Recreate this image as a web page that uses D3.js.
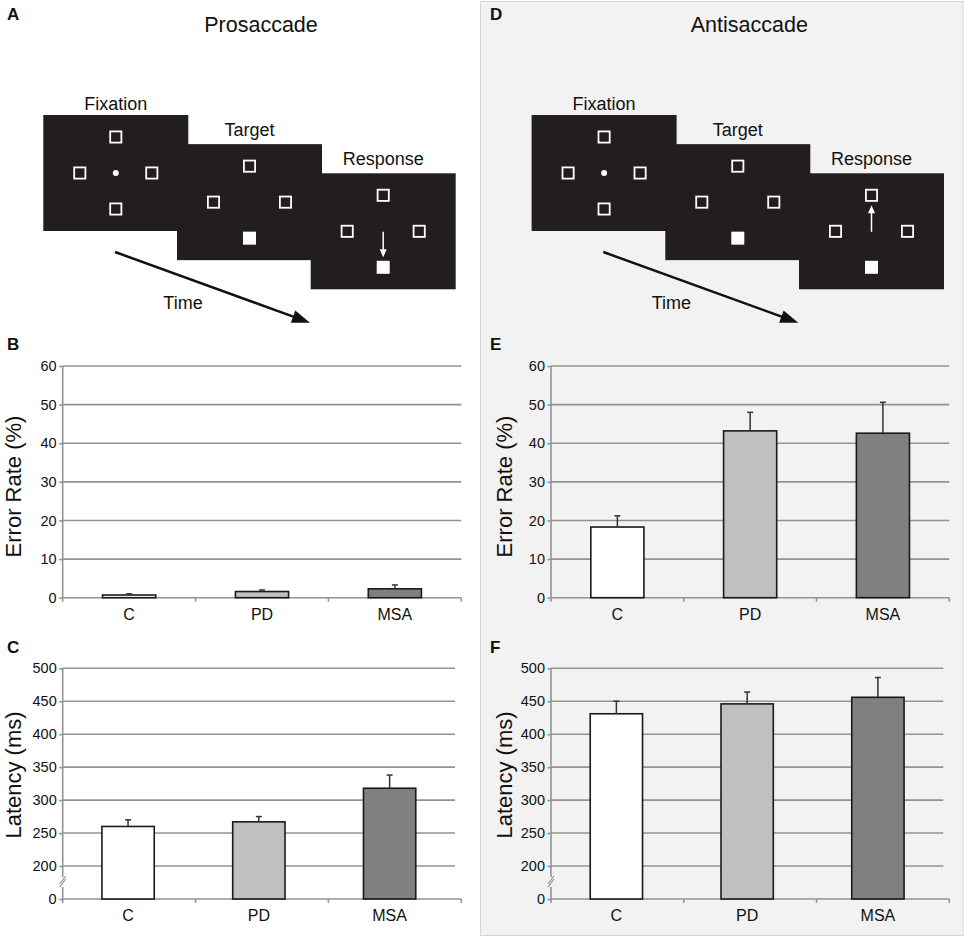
<!DOCTYPE html>
<html>
<head>
<meta charset="utf-8">
<script src="https://cdn.jsdelivr.net/npm/d3@7/dist/d3.min.js"></script>
<style>
  html, body { margin: 0; padding: 0; background: #ffffff; }
  svg { display: block; font-family: "Liberation Sans", Arial, Helvetica, sans-serif; }
</style>
</head>
<body>
<svg id="fig" width="965" height="937"></svg>
<script>
// ---------------- DATA ----------------
const categories = ["C", "PD", "MSA"];
const barColors = ["#ffffff", "#c0c0c0", "#808080"];

const proErrorRate = [0.7, 1.6, 2.3];
const proErrorRateSE = [0.3, 0.4, 1.0];
const antiErrorRate = [18.3, 43.2, 42.6];
const antiErrorRateSE = [2.9, 4.8, 8.0];

const proLatency = [260, 267, 318];
const proLatencySE = [10, 8, 20];
const antiLatency = [431, 446, 456];
const antiLatencySE = [19, 18, 30];

const errorTicks = [0, 10, 20, 30, 40, 50, 60];
const latencyTicks = [0, 200, 250, 300, 350, 400, 450, 500];

const screenLabels = ["Fixation", "Target", "Response"];
// ---------------------------------------

const svg = d3.select("#fig");
const GRID = "#939393";
const INK = "#221e1f";

// right gray panel
svg.append("rect")
  .attr("x", 480.5).attr("y", 1.5).attr("width", 482.5).attr("height", 934)
  .attr("fill", "#f2f2f2").attr("stroke", "#d6d6d6").attr("stroke-width", 1);

// panel letters
const letters = [
  ["A", 7, 20], ["B", 7, 350], ["C", 7, 653],
  ["D", 490, 20], ["E", 490, 350], ["F", 490, 653]
];
svg.selectAll("text.letter").data(letters).enter().append("text")
  .attr("class", "letter")
  .attr("x", d => d[1]).attr("y", d => d[2])
  .attr("font-size", 17).attr("font-weight", "bold").attr("fill", "#111")
  .text(d => d[0]);

// ---------------- Diagrams ----------------
function arrowHead(g, tip, dir, len, half, color) {
  const L = Math.hypot(dir[0], dir[1]);
  const u = [dir[0] / L, dir[1] / L];
  const n = [-u[1], u[0]];
  const b = [tip[0] - len * u[0], tip[1] - len * u[1]];
  g.append("path")
    .attr("d", `M${tip[0]},${tip[1]}L${b[0] + half * n[0]},${b[1] + half * n[1]}L${b[0] - half * n[0]},${b[1] - half * n[1]}Z`)
    .attr("fill", color);
}

function drawDiagram(dx, title, anti) {
  const g = svg.append("g").attr("transform", `translate(${dx},0)`);
  g.append("text").attr("x", 261).attr("y", 32).attr("text-anchor", "middle")
    .attr("font-size", 21.5).attr("fill", "#111").text(title);

  const W = 145, H = 116, off = 36, sq = 13;
  const screens = screenLabels.map((lab, i) => ({
    label: lab,
    x: 43.3 + i * 133.7,
    y: 115 + i * 29.15
  }));
  g.selectAll("rect.screen").data(screens).enter().append("rect")
    .attr("x", d => d.x).attr("y", d => d.y).attr("width", W).attr("height", H)
    .attr("fill", INK);
  g.selectAll("text.slab").data(screens).enter().append("text")
    .attr("x", d => d.x + W / 2).attr("y", (d, i) => d.y - (i === 0 ? 5 : 8))
    .attr("text-anchor", "middle").attr("font-size", 18).attr("fill", "#111")
    .text(d => d.label);

  screens.forEach((s, i) => {
    const cx = s.x + W / 2, cy = s.y + H / 2;
    const outline = [[0, -off], [-off, 0], [off, 0]];
    if (i === 0) outline.push([0, off]);
    outline.forEach(p => {
      g.append("rect")
        .attr("x", cx + p[0] - sq / 2 + 0.9).attr("y", cy + p[1] - sq / 2 + 0.9)
        .attr("width", sq - 1.8).attr("height", sq - 1.8)
        .attr("fill", "none").attr("stroke", "#fff").attr("stroke-width", 1.8);
    });
    if (i === 0) {
      g.append("circle").attr("cx", cx).attr("cy", cy).attr("r", 3).attr("fill", "#fff");
    } else {
      g.append("rect")
        .attr("x", cx - 6.5).attr("y", cy + off - 6.5).attr("width", 13).attr("height", 13)
        .attr("fill", "#fff");
    }
    if (i === 2) {
      const tipY = anti ? cy - 26 : cy + 26;
      const endY = anti ? tipY + 7 : tipY - 7;
      g.append("line").attr("x1", cx).attr("x2", cx).attr("y1", cy + 0.5).attr("y2", endY)
        .attr("stroke", "#fff").attr("stroke-width", 1.5);
      arrowHead(g, [cx, tipY], [0, anti ? -1 : 1], 8, 3.5, "#fff");
    }
  });

  // time arrow
  const start = [115, 252], tip = [310, 322.7];
  const dir = [tip[0] - start[0], tip[1] - start[1]];
  const L = Math.hypot(dir[0], dir[1]);
  const endP = [tip[0] - 12 * dir[0] / L, tip[1] - 12 * dir[1] / L];
  g.append("line").attr("x1", start[0]).attr("y1", start[1]).attr("x2", endP[0]).attr("y2", endP[1])
    .attr("stroke", "#111").attr("stroke-width", 2.5);
  arrowHead(g, tip, dir, 18, 6.5, "#111");
  g.append("text").attr("x", 183).attr("y", 309).attr("text-anchor", "middle")
    .attr("font-size", 18).attr("fill", "#111").text("Time");
}

drawDiagram(0, "Prosaccade", false);
drawDiagram(488.3, "Antisaccade", true);

// ---------------- Bar charts ----------------
function drawChart(cfg) {
  const g = svg.append("g");
  const xAxisBand = d3.scaleBand().domain(categories).range([cfg.x0, cfg.axisEnd]);
  const x = d3.scaleBand().domain(categories).range([cfg.x0, cfg.gridEnd])
    .paddingInner(0.6).paddingOuter(0.3);
  const y = d3.scaleLinear().domain(cfg.domain).range(cfg.range);

  // gridlines
  g.selectAll("line.grid").data(cfg.ticks.filter(t => t !== 0)).enter().append("line")
    .attr("x1", cfg.x0).attr("x2", cfg.gridEnd)
    .attr("y1", d => y(d)).attr("y2", d => y(d))
    .attr("stroke", GRID).attr("stroke-width", 1.6);

  // y axis
  const yAxis = d3.axisLeft(y).tickValues(cfg.ticks).tickSize(3.5).tickPadding(2.5)
    .tickFormat(d3.format("d"));
  const ya = g.append("g").attr("transform", `translate(${cfg.x0},0)`).call(yAxis);
  ya.select(".domain").remove();
  ya.selectAll(".tick line").attr("stroke", GRID).attr("stroke-width", 1.6);
  ya.selectAll(".tick text").attr("font-size", 14.5).attr("fill", "#111")
    .attr("font-family", "Liberation Sans, Arial, sans-serif");

  const yTop = y(cfg.ticks[cfg.ticks.length - 1]);
  const yBot = y(0);
  if (cfg.broken) {
    const yb = y(200);
    g.append("line").attr("x1", cfg.x0).attr("x2", cfg.x0).attr("y1", yTop).attr("y2", yb + 11)
      .attr("stroke", GRID).attr("stroke-width", 1.6);
    g.append("line").attr("x1", cfg.x0).attr("x2", cfg.x0).attr("y1", yb + 21).attr("y2", yBot)
      .attr("stroke", GRID).attr("stroke-width", 1.6);
    [0, 3].forEach(o => {
      g.append("line")
        .attr("x1", cfg.x0 - 3).attr("y1", yb + 18 + o)
        .attr("x2", cfg.x0 + 3).attr("y2", yb + 10 + o)
        .attr("stroke", GRID).attr("stroke-width", 1.2);
    });
  } else {
    g.append("line").attr("x1", cfg.x0).attr("x2", cfg.x0).attr("y1", yTop).attr("y2", yBot)
      .attr("stroke", GRID).attr("stroke-width", 1.6);
  }

  // x axis baseline + boundary ticks
  g.append("line").attr("x1", cfg.x0).attr("x2", cfg.axisEnd).attr("y1", yBot).attr("y2", yBot)
    .attr("stroke", GRID).attr("stroke-width", 1.6);
  const bounds = categories.map(c => xAxisBand(c)).concat([cfg.axisEnd]);
  g.selectAll("line.xt").data(bounds).enter().append("line")
    .attr("x1", d => d).attr("x2", d => d).attr("y1", yBot).attr("y2", yBot + 4)
    .attr("stroke", GRID).attr("stroke-width", 1.6);

  // category labels
  const xAxis = d3.axisBottom(x).tickSize(0).tickPadding(11);
  const xa = g.append("g").attr("transform", `translate(0,${yBot})`).call(xAxis);
  xa.select(".domain").remove();
  xa.selectAll(".tick text").attr("font-size", 16).attr("fill", "#111")
    .attr("font-family", "Liberation Sans, Arial, sans-serif");

  // bars
  const rows = categories.map((c, i) => ({ c, v: cfg.values[i], e: cfg.se[i], col: barColors[i] }));
  g.selectAll("rect.bar").data(rows).enter().append("rect")
    .attr("x", d => x(d.c)).attr("width", x.bandwidth())
    .attr("y", d => y(d.v)).attr("height", d => yBot - y(d.v))
    .attr("fill", d => d.col).attr("stroke", "#1a1a1a").attr("stroke-width", 1.6);

  // error bars (upper only)
  g.selectAll("line.eb").data(rows).enter().append("line")
    .attr("x1", d => x(d.c) + x.bandwidth() / 2).attr("x2", d => x(d.c) + x.bandwidth() / 2)
    .attr("y1", d => y(d.v)).attr("y2", d => y(d.v + d.e))
    .attr("stroke", "#333").attr("stroke-width", 1.5);
  g.selectAll("line.ebc").data(rows).enter().append("line")
    .attr("x1", d => x(d.c) + x.bandwidth() / 2 - 3).attr("x2", d => x(d.c) + x.bandwidth() / 2 + 3)
    .attr("y1", d => y(d.v + d.e)).attr("y2", d => y(d.v + d.e))
    .attr("stroke", "#333").attr("stroke-width", 1.5);

  // y label
  g.append("text")
    .attr("transform", `translate(${cfg.labelX},${cfg.labelY}) rotate(-90)`)
    .attr("text-anchor", "middle").attr("font-size", 22).attr("fill", "#111")
    .text(cfg.ylabel);
}

const errRange = [597.7, 366];
const latRange = [899, 866, 668.3];

drawChart({ values: proErrorRate, se: proErrorRateSE, x0: 62.7, gridEnd: 461.3, axisEnd: 461.3,
  domain: [0, 60], range: errRange, ticks: errorTicks, broken: false,
  ylabel: "Error Rate (%)", labelX: 20.5, labelY: 486.5 });
drawChart({ values: antiErrorRate, se: antiErrorRateSE, x0: 551, gridEnd: 949.3, axisEnd: 949.3,
  domain: [0, 60], range: errRange, ticks: errorTicks, broken: false,
  ylabel: "Error Rate (%)", labelX: 511.5, labelY: 486.5 });
drawChart({ values: proLatency, se: proLatencySE, x0: 62.7, gridEnd: 455, axisEnd: 461.3,
  domain: [0, 200, 500], range: latRange, ticks: latencyTicks, broken: true,
  ylabel: "Latency (ms)", labelX: 20.5, labelY: 775 });
drawChart({ values: antiLatency, se: antiLatencySE, x0: 551, gridEnd: 943.3, axisEnd: 949.3,
  domain: [0, 200, 500], range: latRange, ticks: latencyTicks, broken: true,
  ylabel: "Latency (ms)", labelX: 511.5, labelY: 775 });
</script>
</body>
</html>
